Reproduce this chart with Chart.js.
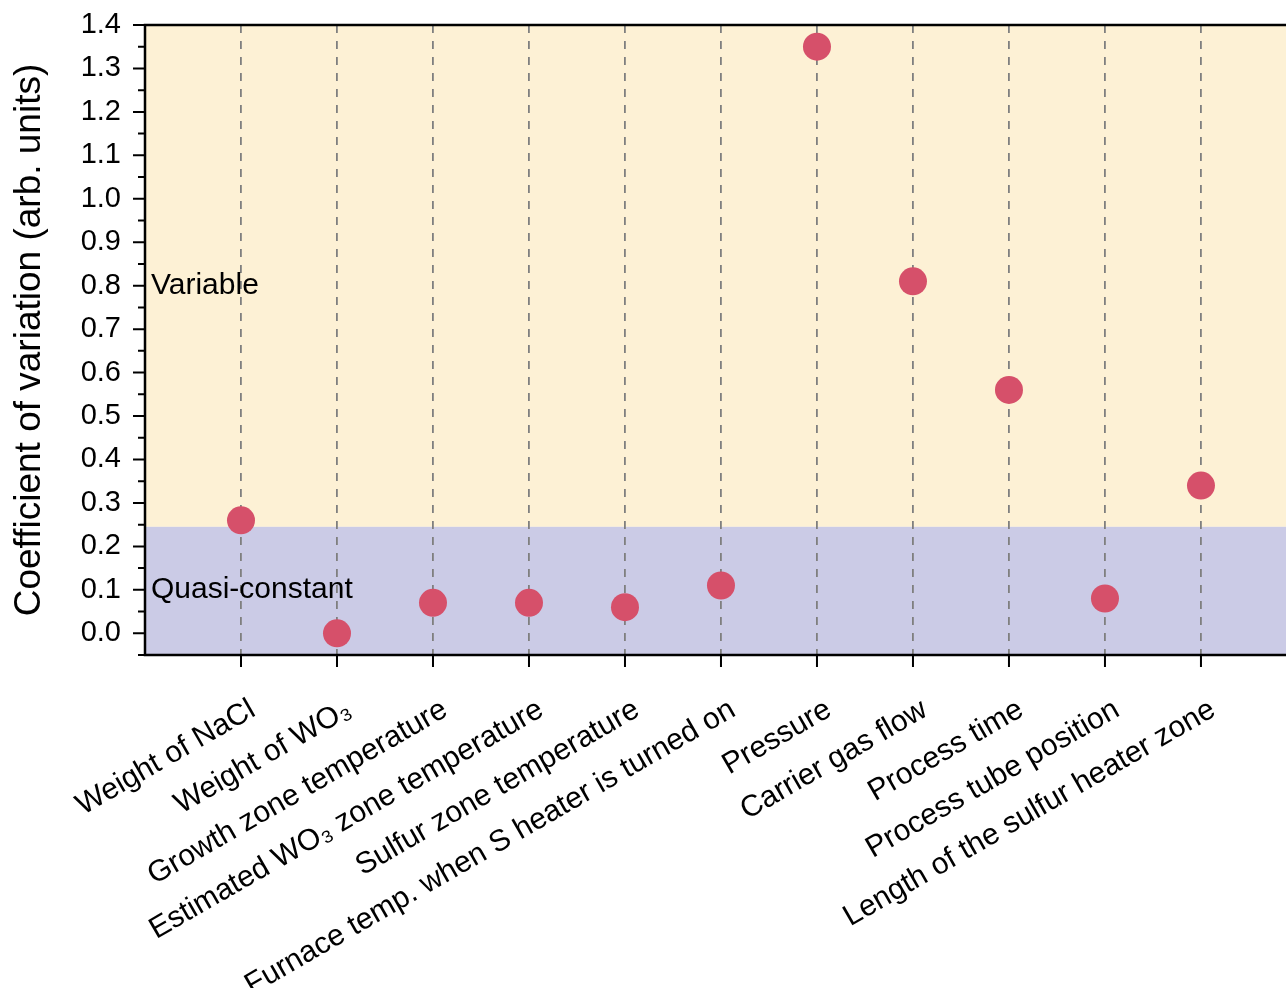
<!DOCTYPE html>
<html>
<head>
<meta charset="utf-8">
<script src="https://cdn.jsdelivr.net/npm/chart.js@4/dist/chart.umd.min.js"></script>
<style>
html,body{margin:0;padding:0;background:#fff;overflow:hidden;}
#wrap{width:1286px;height:988px;position:relative;}
</style>
</head>
<body>
<div id="wrap"><canvas id="c" width="1286" height="988"></canvas></div>
<script>
const categories = [
  "Weight of NaCl",
  "Weight of WO₃",
  "Growth zone temperature",
  "Estimated WO₃ zone temperature",
  "Sulfur zone temperature",
  "Furnace temp. when S heater is turned on",
  "Pressure",
  "Carrier gas flow",
  "Process time",
  "Process tube position",
  "Length of the sulfur heater zone"
];
const cvValues = [0.26, 0.00, 0.07, 0.07, 0.06, 0.11, 1.35, 0.81, 0.56, 0.08, 0.34];
const xPositions = [1, 2, 3, 4, 5, 6, 7, 8, 9, 10, 11];
const yTicks = [0.0, 0.1, 0.2, 0.3, 0.4, 0.5, 0.6, 0.7, 0.8, 0.9, 1.0, 1.1, 1.2, 1.3, 1.4];
const yMinorTicks = [-0.05, 0.05, 0.15, 0.25, 0.35, 0.45, 0.55, 0.65, 0.75, 0.85, 0.95, 1.05, 1.15, 1.25, 1.35];
const regionThreshold = 0.245;
const regionLabels = [{text: "Variable", y: 0.8}, {text: "Quasi-constant", y: 0.1}];

const FONT = "'Liberation Sans', Arial, sans-serif";

const bandsPlugin = {
  id: 'bands',
  beforeDraw(chart) {
    const {ctx, chartArea: a, scales: {y}} = chart;
    const yT = y.getPixelForValue(regionThreshold);
    ctx.save();
    ctx.fillStyle = '#fdf1d5';
    ctx.fillRect(a.left, a.top, chart.width - a.left, yT - a.top);
    ctx.fillStyle = '#cbcbe6';
    ctx.fillRect(a.left, yT, chart.width - a.left, a.bottom - yT);
    ctx.restore();
  },
  afterDatasetsDraw(chart) {
    const {ctx, chartArea: a, scales: {x, y}} = chart;
    ctx.save();
    ctx.fillStyle = '#000';
    ctx.font = "30px " + FONT;
    ctx.textAlign = 'left';
    ctx.textBaseline = 'middle';
    regionLabels.forEach(r => ctx.fillText(r.text, a.left + 6, y.getPixelForValue(r.y)));
    ctx.strokeStyle = '#000';
    ctx.lineWidth = 2.5;
    ctx.beginPath();
    ctx.moveTo(chart.width + 2, a.top); ctx.lineTo(a.left, a.top);
    ctx.lineTo(a.left, a.bottom); ctx.lineTo(chart.width + 2, a.bottom);
    ctx.stroke();
    ctx.lineWidth = 2;
    ctx.beginPath();
    yTicks.forEach(v => { const p = y.getPixelForValue(v); ctx.moveTo(a.left, p); ctx.lineTo(a.left - 12, p); });
    yMinorTicks.forEach(v => { const p = y.getPixelForValue(v); ctx.moveTo(a.left, p); ctx.lineTo(a.left - 7, p); });
    xPositions.forEach(v => { const p = x.getPixelForValue(v); ctx.moveTo(p, a.bottom); ctx.lineTo(p, a.bottom + 12); });
    ctx.stroke();
    ctx.restore();
  }
};

new Chart(document.getElementById('c'), {
  type: 'scatter',
  data: {
    datasets: [{
      data: cvValues.map((v, i) => ({x: xPositions[i], y: v})),
      backgroundColor: '#d6506a',
      borderWidth: 0,
      pointRadius: 14,
      pointHoverRadius: 14
    }]
  },
  options: {
    responsive: false,
    animation: false,
    events: [],
    layout: {padding: {top: 25, right: 0, left: 0, bottom: 0}},
    plugins: {legend: {display: false}, tooltip: {enabled: false}},
    scales: {
      x: {
        type: 'linear',
        min: 0,
        max: 11.74,
        afterBuildTicks(scale) { scale.ticks = xPositions.map(v => ({value: v})); },
        afterFit(scale) {
          scale.height = 333; scale.paddingLeft = 0; scale.paddingRight = 0;
          if (scale._margins) { scale._margins.left = 0; scale._margins.right = 0; }
        },
        border: {display: false, dash: [8, 8]},
        grid: {
          drawTicks: false,
          color: '#7f7f7f',
          lineWidth: 1.8
        },
        ticks: {
          autoSkip: false,
          minRotation: 30,
          maxRotation: 30,
          padding: 37,
          labelOffset: 12,
          color: '#000',
          font: {family: FONT, size: 30},
          callback: (v) => categories[v - 1] || ''
        }
      },
      y: {
        type: 'linear',
        min: -0.05,
        max: 1.4,
        afterBuildTicks(scale) { scale.ticks = yTicks.map(v => ({value: v})); },
        afterFit(scale) { scale.width = 145; scale.paddingTop = 0; scale.paddingBottom = 0; },
        border: {display: false},
        grid: {display: false, drawTicks: false},
        ticks: {
          padding: 24,
          color: '#000',
          font: {family: FONT, size: 29},
          callback: (v) => Number(v).toFixed(1)
        },
        title: {
          display: true,
          text: 'Coefficient of variation (arb. units)',
          color: '#000',
          font: {family: FONT, size: 37},
          padding: {top: 8, bottom: 0}
        }
      }
    }
  },
  plugins: [bandsPlugin]
});
</script>
</body>
</html>
